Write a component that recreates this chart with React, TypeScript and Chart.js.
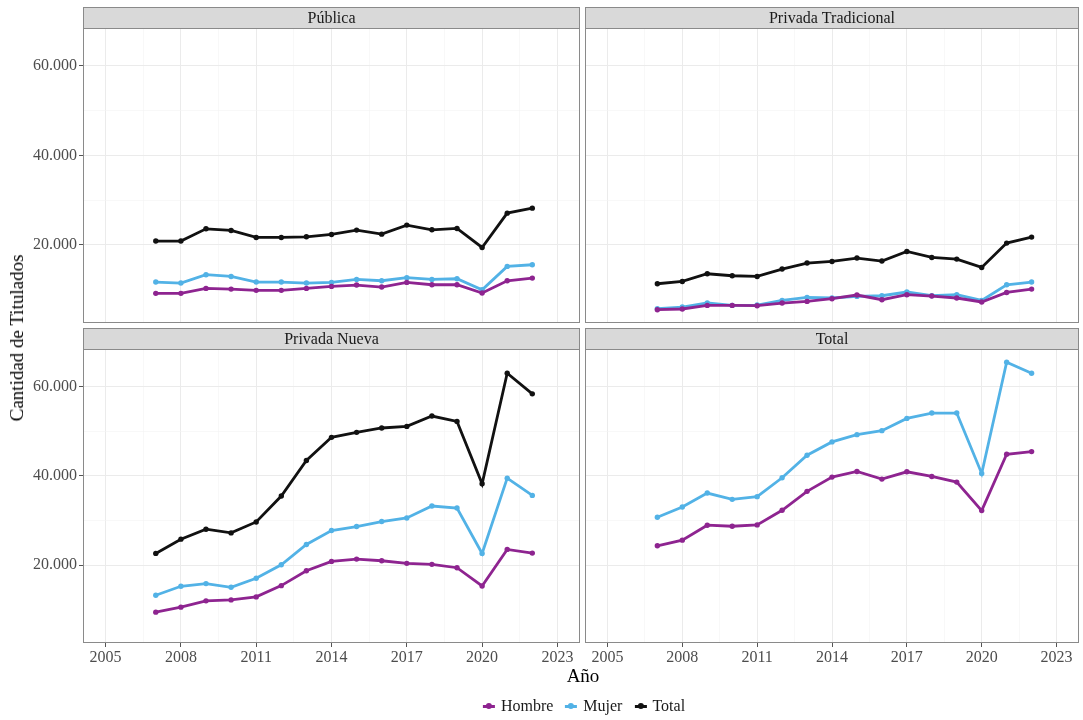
import React, { useEffect, useRef } from "react";
import { Chart, registerables } from "chart.js";

Chart.register(...registerables);

// ---------- DATA ----------
const YEARS = [2007, 2008, 2009, 2010, 2011, 2012, 2013, 2014, 2015, 2016, 2017, 2018, 2019, 2020, 2021, 2022];

const PUBLICA_HOMBRE = [9130, 9130, 10240, 10090, 9800, 9800, 10240, 10690, 10990, 10540, 11580, 11060, 11060, 9200, 11950, 12550];
const PUBLICA_MUJER = [11660, 11440, 13300, 12920, 11660, 11660, 11440, 11580, 12250, 11950, 12630, 12250, 12400, 9940, 15160, 15530];
const PUBLICA_TOTAL = [20830, 20830, 23575, 23200, 21640, 21640, 21790, 22310, 23280, 22380, 24400, 23350, 23650, 19400, 27080, 28200];

const TRAD_HOMBRE = [5470, 5630, 6440, 6440, 6370, 6970, 7330, 7930, 8760, 7710, 8830, 8530, 8090, 7200, 9340, 10090];
const TRAD_MUJER = [5700, 6070, 6970, 6440, 6520, 7550, 8220, 8090, 8450, 8600, 9430, 8600, 8830, 7550, 11060, 11660];
const TRAD_TOTAL = [11280, 11800, 13520, 13070, 12920, 14570, 15910, 16270, 17030, 16360, 18500, 17160, 16800, 14930, 20380, 21720];

const NUEVA_HOMBRE = [9430, 10550, 11960, 12180, 12850, 15380, 18730, 20820, 21340, 20960, 20380, 20160, 19400, 15310, 23510, 22680];
const NUEVA_MUJER = [13220, 15230, 15830, 15010, 17020, 20070, 24620, 27750, 28640, 29760, 30570, 33250, 32800, 22610, 39510, 35640];
const NUEVA_TOTAL = [22610, 25810, 28040, 27220, 29680, 35490, 43460, 48670, 49790, 50770, 51130, 53450, 52250, 38250, 63060, 58430];

const TOTAL_HOMBRE = [24320, 25590, 28940, 28710, 29010, 32290, 36540, 39740, 41010, 39290, 40930, 39890, 38620, 32220, 44870, 45470];
const TOTAL_MUJER = [30730, 33030, 36160, 34750, 35350, 39590, 44650, 47640, 49270, 50170, 52920, 54120, 54120, 40560, 65520, 63060];

const X_TICKS = [2005, 2008, 2011, 2014, 2017, 2020, 2023];
const Y_TICKS = [20000, 40000, 60000];
const X_RANGE = [2004.1, 2023.9];
const Y_RANGE = [2500, 68500];

const SERIES_NAMES = ["Hombre", "Mujer", "Total"];
const PANEL_TITLES = ["Pública", "Privada Tradicional", "Privada Nueva", "Total"];

// ---------- STYLE ----------
const COLORS: Record<string, string> = { Hombre: "#8E2490", Mujer: "#52B2E6", Total: "#111111" };
const FONT = "'Liberation Serif', 'Times New Roman', serif";
const W = 1083;
const H = 720;
const STRIP_H = 21;
const BORDER = "#8a8a8a";

const PANEL_DATA: Record<string, Record<string, number[]>> = {
  "Pública": { Hombre: PUBLICA_HOMBRE, Mujer: PUBLICA_MUJER, Total: PUBLICA_TOTAL },
  "Privada Tradicional": { Hombre: TRAD_HOMBRE, Mujer: TRAD_MUJER, Total: TRAD_TOTAL },
  "Privada Nueva": { Hombre: NUEVA_HOMBRE, Mujer: NUEVA_MUJER, Total: NUEVA_TOTAL },
  "Total": { Hombre: TOTAL_HOMBRE, Mujer: TOTAL_MUJER },
};

const LAYOUT = [
  { L: 83, T: 28, R: 580, B: 323, showY: true, showX: false },
  { L: 585, T: 28, R: 1082, B: 323, showY: false, showX: false },
  { L: 83, T: 349, R: 580, B: 643, showY: true, showX: true },
  { L: 585, T: 349, R: 1082, B: 643, showY: false, showX: true },
];

function withMinor(major: number[]): number[] {
  const out: number[] = [];
  for (let i = 0; i < major.length; i++) {
    out.push(major[i]);
    if (i < major.length - 1) out.push((major[i] + major[i + 1]) / 2);
  }
  return out;
}

const fmt = (v: number) => String(Math.round(v)).replace(/\B(?=(\d{3})+(?!\d))/g, ".");

const facetPlugin = {
  id: "facet",
  afterDraw(chart: any, _args: any, opts: any) {
    const { ctx, chartArea } = chart;
    const { left, top, right, bottom } = chartArea;
    ctx.save();
    // strip
    ctx.fillStyle = "#d9d9d9";
    ctx.fillRect(left, top - STRIP_H, right - left, STRIP_H);
    ctx.strokeStyle = BORDER;
    ctx.lineWidth = 1;
    ctx.strokeRect(left + 0.5, top - STRIP_H + 0.5, right - left - 1, STRIP_H);
    ctx.fillStyle = "#1a1a1a";
    ctx.font = `16px ${FONT}`;
    ctx.textAlign = "center";
    ctx.textBaseline = "middle";
    ctx.fillText(opts.title, (left + right) / 2, top - STRIP_H / 2 + 1);
    // panel border
    ctx.strokeStyle = BORDER;
    ctx.strokeRect(left + 0.5, top + 0.5, right - left - 1, bottom - top - 1);
    ctx.restore();
  },
};

function makeScale(major: number[], range: number[], show: boolean, isX: boolean) {
  const all = withMinor(major);
  const isMajor = (v: number) => major.includes(v);
  return {
    type: "linear",
    position: isX ? "bottom" : "left",
    min: range[0],
    max: range[1],
    afterBuildTicks: (scale: any) => {
      scale.ticks = all.map((v) => ({ value: v }));
    },
    afterFit: (scale: any) => {
      if (isX) scale.height = show ? 26 : 0;
      else scale.width = show ? 70 : 0;
    },
    border: { display: false },
    grid: {
      drawTicks: show,
      tickLength: 4,
      color: (c: any) => (c.tick && isMajor(c.tick.value) ? "#ebebeb" : "#f4f4f4"),
      lineWidth: (c: any) => (c.tick && isMajor(c.tick.value) ? 1 : 0.6),
      tickColor: (c: any) => (c.tick && isMajor(c.tick.value) ? "#555555" : "rgba(0,0,0,0)"),
      tickWidth: 1,
    },
    ticks: {
      display: show,
      autoSkip: false,
      maxRotation: 0,
      minRotation: 0,
      padding: isX ? 1 : 2,
      color: "#4d4d4d",
      font: { family: FONT, size: 16 },
      callback: (v: number) => (isMajor(v) ? (isX ? String(v) : fmt(v)) : ""),
    },
  };
}

function Panel({ index }: { index: number }) {
  const ref = useRef<HTMLCanvasElement | null>(null);
  useEffect(() => {
    const title = PANEL_TITLES[index];
    const lay = LAYOUT[index];
    const series = PANEL_DATA[title];
    const datasets = SERIES_NAMES.filter((n) => series[n]).map((n) => ({
      label: n,
      data: YEARS.map((y, i) => ({ x: y, y: series[n][i] })),
      borderColor: COLORS[n],
      backgroundColor: COLORS[n],
      borderWidth: 2.8,
      pointRadius: 2.7,
      pointBorderWidth: 0,
      pointBackgroundColor: COLORS[n],
      tension: 0,
    }));
    const yW = lay.showY ? 70 : 0;
    const xH = lay.showX ? 26 : 0;
    const chart = new Chart(ref.current as HTMLCanvasElement, {
      type: "line",
      data: { datasets },
      plugins: [facetPlugin],
      options: {
        responsive: false,
        maintainAspectRatio: false,
        animation: false,
        layout: {
          padding: { left: lay.L - yW, top: lay.T, right: W - lay.R, bottom: H - lay.B - xH },
        },
        plugins: {
          legend: { display: false },
          tooltip: { enabled: false },
          facet: { title },
        },
        scales: {
          x: makeScale(X_TICKS, X_RANGE, lay.showX, true),
          y: makeScale(Y_TICKS, Y_RANGE, lay.showY, false),
        },
      } as any,
    } as any);
    return () => chart.destroy();
  }, [index]);
  return (
    <canvas
      ref={ref}
      width={W}
      height={H}
      style={{ position: "absolute", left: 0, top: 0, width: W, height: H }}
    />
  );
}

function LegendKey({ color }: { color: string }) {
  return (
    <div style={{ position: "relative", width: 12, height: 16, marginRight: 6 }}>
      <div style={{ position: "absolute", left: 0, top: 7, width: 12, height: 2.5, background: color }} />
      <div
        style={{
          position: "absolute",
          left: 3,
          top: 5,
          width: 6,
          height: 6,
          borderRadius: 3,
          background: color,
        }}
      />
    </div>
  );
}

export default function App() {
  return (
    <div
      style={{
        position: "absolute",
        left: 0,
        top: 0,
        width: W,
        height: H,
        background: "#ffffff",
        overflow: "hidden",
        fontFamily: FONT,
      }}
    >
      {LAYOUT.map((_, i) => (
        <Panel key={i} index={i} />
      ))}
      <div
        style={{
          position: "absolute",
          left: 17,
          top: 338,
          transform: "translate(-50%, -50%) rotate(-90deg)",
          fontSize: 19,
          color: "#000",
          whiteSpace: "nowrap",
        }}
      >
        Cantidad de Titulados
      </div>
      <div
        style={{
          position: "absolute",
          left: 583,
          top: 676,
          transform: "translate(-50%, -50%)",
          fontSize: 19,
          color: "#000",
          whiteSpace: "nowrap",
        }}
      >
        Año
      </div>
      <div
        style={{
          position: "absolute",
          left: 584,
          top: 706,
          transform: "translate(-50%, -50%)",
          display: "flex",
          alignItems: "center",
          fontSize: 16,
          color: "#1a1a1a",
          whiteSpace: "nowrap",
        }}
      >
        {SERIES_NAMES.map((n) => (
          <div key={n} style={{ display: "flex", alignItems: "center", marginRight: n === "Total" ? 0 : 12 }}>
            <LegendKey color={COLORS[n]} />
            <span>{n}</span>
          </div>
        ))}
      </div>
    </div>
  );
}
